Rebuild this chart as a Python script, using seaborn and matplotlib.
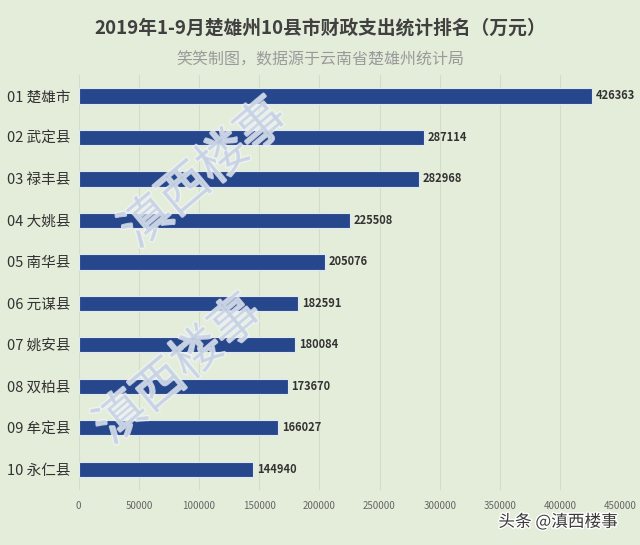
import pandas as pd
import seaborn as sns
import matplotlib.pyplot as plt
import matplotlib.patheffects as pe

counties = ["01 楚雄市", "02 武定县", "03 禄丰县", "04 大姚县", "05 南华县",
            "06 元谋县", "07 姚安县", "08 双柏县", "09 牟定县", "10 永仁县"]
spending = [426363, 287114, 282968, 225508, 205076,
            182591, 180084, 173670, 166027, 144940]
xticks = list(range(0, 450001, 50000))

df = pd.DataFrame({"county": counties, "value": spending})

sns.set_style("whitegrid")
plt.rcParams['font.family'] = ['Noto Sans CJK SC', 'DejaVu Sans']

bg = "#e4edda"
fig = plt.figure(figsize=(6.4, 5.45), dpi=100, facecolor=bg)
ax = fig.add_axes([0.123, 0.101, 0.846, 0.761], facecolor=bg)

sns.barplot(data=df, x="value", y="county", color="#27478c", width=0.37,
            edgecolor="#dfe8f5", linewidth=0.8, saturation=1, ax=ax)

for i, v in enumerate(spending):
    ax.text(v + 3000, i, str(v), va="center", ha="left", fontsize=8,
            fontweight="bold", color="#333333")

ax.set_xlim(0, 450000)
ax.set_ylim(9.5, -0.5)
ax.set_xticks(xticks)
ax.set_xticklabels([str(t) for t in xticks], fontsize=7, color="#666666")
ax.tick_params(axis="y", labelsize=10.5, colors="#333333", length=0, pad=6)
ax.tick_params(axis="x", length=0, pad=8)
ax.set_xlabel("")
ax.set_ylabel("")
ax.grid(axis="y", visible=False)
ax.grid(axis="x", color="#d2dccb", linewidth=0.8)
for s in ax.spines.values():
    s.set_visible(False)

fig.text(0.5, 0.948, "2019年1-9月楚雄州10县市财政支出统计排名（万元）",
         ha="center", va="center", fontsize=13.5, fontweight="bold", color="#404040")
fig.text(0.5, 0.89, "笑笑制图，数据源于云南省楚雄州统计局",
         ha="center", va="center", fontsize=11.5, color="#9a9a9a")

# watermarks
wm = dict(fontsize=36, fontweight="medium", color="#c3cfe2", alpha=0.75, rotation=40,
          ha="center", va="center",
          path_effects=[pe.withStroke(linewidth=2, foreground="#f2f5f8")])
fig.text(0.32, 0.68, "滇西楼事", **wm)
fig.text(0.28, 0.32, "滇西楼事", **wm)

fig.text(0.965, 0.042, "头条 @滇西楼事", ha="right", va="center", fontsize=12,
         color="#3a3a3a",
         path_effects=[pe.withStroke(linewidth=2, foreground="white")])

plt.savefig("out.png", dpi=100, facecolor=bg)
